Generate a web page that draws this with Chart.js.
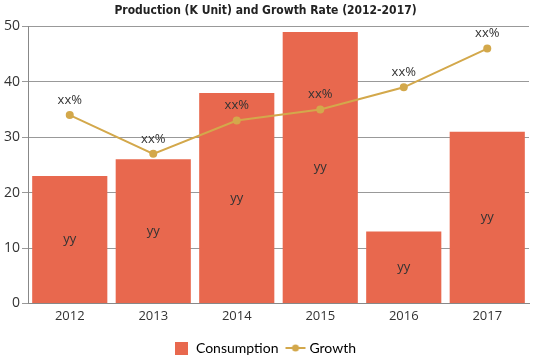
<!DOCTYPE html>
<html><head><meta charset="utf-8">
<script src="https://cdn.jsdelivr.net/npm/chart.js@4/dist/chart.umd.min.js"></script>
<style>html,body{margin:0;padding:0;background:#fff}#wrap{width:539px;height:359px}</style>
</head><body><div id="wrap"><canvas id="c" width="539" height="359"></canvas></div>
<script>
const categories = ['2012','2013','2014','2015','2016','2017'];
const consumption = [23, 26, 38, 49, 13, 31];
const growth = [34, 27, 33, 35, 39, 46];
const barLabels = ['yy','yy','yy','yy','yy','yy'];
const lineLabels = ['xx%','xx%','xx%','xx%','xx%','xx%'];
const yTicks = [0,10,20,30,40,50];

const barColor = '#E8684E';
const lineColor = '#D3A84B';

const lineIcon = document.createElement('canvas');
lineIcon.width = 22; lineIcon.height = 10;
(function(){const g=lineIcon.getContext('2d');g.strokeStyle=lineColor;g.lineWidth=2;g.beginPath();g.moveTo(1,5);g.lineTo(21,5);g.stroke();g.fillStyle=lineColor;g.beginPath();g.arc(11,5,3.5,0,Math.PI*2);g.fill();})();
const boxIcon = document.createElement('canvas');
boxIcon.width = 13; boxIcon.height = 13;
(function(){const g=boxIcon.getContext('2d');g.fillStyle=barColor;g.fillRect(0,0,13,13);})();

const labelPlugin = {
  id:'labels',
  afterDatasetsDraw(chart){
    const ctx = chart.ctx;
    ctx.save();
    ctx.fillStyle = '#333';
    ctx.font = '13px "Open Sans", sans-serif';
    ctx.textAlign = 'center';
    ctx.textBaseline = 'middle';
    chart.getDatasetMeta(1).data.forEach((el,i)=>{
      const mid = (el.y + el.base)/2;
      ctx.fillText(barLabels[i], el.x, mid);
    });
    chart.getDatasetMeta(0).data.forEach((el,i)=>{
      ctx.fillText(lineLabels[i], el.x, el.y - 15);
    });
    ctx.restore();
  }
};

new Chart(document.getElementById('c'), {
  data: {
    labels: categories,
    datasets: [
      {type:'line', label:'Growth', data: growth, borderColor: lineColor, backgroundColor: lineColor,
       borderWidth: 2, pointRadius: 4, pointHoverRadius: 4, pointBackgroundColor: lineColor, pointBorderWidth: 0,
       tension: 0, order: 0, pointStyle: 'circle'},
      {type:'bar', label:'Consumption', data: consumption, backgroundColor: barColor,
       barPercentage: 0.9, categoryPercentage: 1.0, order: 1}
    ]
  },
  options: {
    responsive: false,
    animation: false,
    layout: {padding: {left: 2, right: 10, top: 0, bottom: -6}},
    plugins: {
      title: {display: true, text: 'Production (K Unit) and Growth Rate (2012-2017)',
        font: {family: '"DejaVu Sans Condensed", sans-serif', size: 12, weight: 'bold'}, color: '#222',
        padding: {top: 4, bottom: 8}},
      legend: {position: 'bottom',
        labels: {font: {family: 'Lato, sans-serif', size: 14}, color: '#333', padding: 10, usePointStyle: true,
          generateLabels(chart){
            return [
              {text:'Consumption', fillStyle: barColor, strokeStyle: barColor, lineWidth:0, datasetIndex:1, pointStyle: boxIcon},
              {text:'Growth', fillStyle: lineColor, strokeStyle: lineColor, lineWidth:0, datasetIndex:0, pointStyle: lineIcon}
            ];
          }
        }},
      tooltip: {enabled: false}
    },
    scales: {
      x: {grid: {display: false, drawTicks: false}, border: {display: true, color: '#888'},
        afterFit(s){ s.height += 2; },
        ticks: {color: '#333', font: {family: '"Open Sans", sans-serif', size: 13}, padding: 5}},
      y: {min: 0, max: 50, afterBuildTicks(s){ s.ticks = yTicks.map(v=>({value:v})); },
        grid: {color: '#999', tickLength: 6, drawTicks: true}, border: {display: true, color: '#888'},
        ticks: {color: '#333', font: {family: '"Open Sans", sans-serif', size: 14}, padding: 2}}
    }
  },
  plugins: [labelPlugin]
});
</script></body></html>
